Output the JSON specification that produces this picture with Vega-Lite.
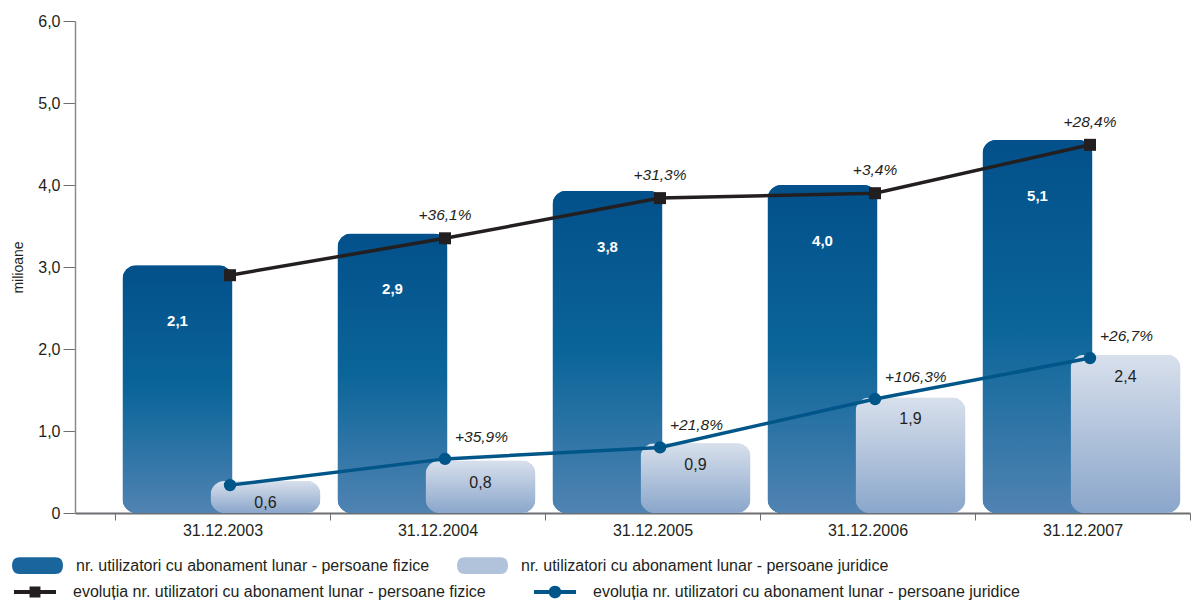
{
  "$schema": "https://vega.github.io/schema/vega-lite/v6.json",
  "width": 1115,
  "height": 492,
  "autosize": {"type": "none"},
  "padding": {"left": 75, "top": 21, "right": 3, "bottom": 88},
  "config": {
    "font": "Liberation Sans",
    "view": {"stroke": null},
    "axis": {"grid": false}
  },
  "datasets": {
    "bars": [
      {"data": "31.12.2003", "serie": "nr. utilizatori cu abonament lunar - persoane fizice", "valoare": 3.02, "eticheta": "2,1"},
      {"data": "31.12.2003", "serie": "nr. utilizatori cu abonament lunar - persoane juridice", "valoare": 0.39, "eticheta": "0,6"},
      {"data": "31.12.2004", "serie": "nr. utilizatori cu abonament lunar - persoane fizice", "valoare": 3.41, "eticheta": "2,9"},
      {"data": "31.12.2004", "serie": "nr. utilizatori cu abonament lunar - persoane juridice", "valoare": 0.64, "eticheta": "0,8"},
      {"data": "31.12.2005", "serie": "nr. utilizatori cu abonament lunar - persoane fizice", "valoare": 3.93, "eticheta": "3,8"},
      {"data": "31.12.2005", "serie": "nr. utilizatori cu abonament lunar - persoane juridice", "valoare": 0.85, "eticheta": "0,9"},
      {"data": "31.12.2006", "serie": "nr. utilizatori cu abonament lunar - persoane fizice", "valoare": 4.0, "eticheta": "4,0"},
      {"data": "31.12.2006", "serie": "nr. utilizatori cu abonament lunar - persoane juridice", "valoare": 1.41, "eticheta": "1,9"},
      {"data": "31.12.2007", "serie": "nr. utilizatori cu abonament lunar - persoane fizice", "valoare": 4.55, "eticheta": "5,1"},
      {"data": "31.12.2007", "serie": "nr. utilizatori cu abonament lunar - persoane juridice", "valoare": 1.93, "eticheta": "2,4"}
    ],
    "lines": [
      {"data": "31.12.2003", "evolutie": "evoluția nr. utilizatori cu abonament lunar - persoane fizice", "valoare": 2.9, "procent": ""},
      {"data": "31.12.2004", "evolutie": "evoluția nr. utilizatori cu abonament lunar - persoane fizice", "valoare": 3.35, "procent": "+36,1%"},
      {"data": "31.12.2005", "evolutie": "evoluția nr. utilizatori cu abonament lunar - persoane fizice", "valoare": 3.84, "procent": "+31,3%"},
      {"data": "31.12.2006", "evolutie": "evoluția nr. utilizatori cu abonament lunar - persoane fizice", "valoare": 3.9, "procent": "+3,4%"},
      {"data": "31.12.2007", "evolutie": "evoluția nr. utilizatori cu abonament lunar - persoane fizice", "valoare": 4.49, "procent": "+28,4%"},
      {"data": "31.12.2003", "evolutie": "evoluția nr. utilizatori cu abonament lunar - persoane juridice", "valoare": 0.34, "procent": ""},
      {"data": "31.12.2004", "evolutie": "evoluția nr. utilizatori cu abonament lunar - persoane juridice", "valoare": 0.66, "procent": "+35,9%"},
      {"data": "31.12.2005", "evolutie": "evoluția nr. utilizatori cu abonament lunar - persoane juridice", "valoare": 0.8, "procent": "+21,8%"},
      {"data": "31.12.2006", "evolutie": "evoluția nr. utilizatori cu abonament lunar - persoane juridice", "valoare": 1.39, "procent": "+106,3%"},
      {"data": "31.12.2007", "evolutie": "evoluția nr. utilizatori cu abonament lunar - persoane juridice", "valoare": 1.89, "procent": "+26,7%"}
    ]
  },
  "layer": [
    {
      "data": {"name": "bars"},
      "mark": {"type": "bar", "width": 110, "cornerRadius": 14},
      "encoding": {
        "x": {
          "field": "data", "type": "nominal", "sort": null,
          "scale": {"paddingInner": 0, "paddingOuter": 0.093, "align": 1},
          "axis": {
            "title": null, "labelAngle": 0, "labelFontSize": 16, "labelColor": "#231f20",
            "domainColor": "#6d6e71", "domainWidth": 2, "tickColor": "#6d6e71", "tickSize": 7,
            "tickBand": "extent", "labelPadding": 2
          }
        },
        "xOffset": {
          "field": "serie", "type": "nominal",
          "scale": {"range": [18.5, 194.5], "paddingInner": 0, "paddingOuter": 0}
        },
        "y": {
          "field": "valoare", "type": "quantitative",
          "scale": {"domain": [0, 6], "nice": false},
          "axis": {
            "title": "milioane", "titleFontSize": 14, "titleFontWeight": "normal", "titleColor": "#231f20",
            "titleX": -57, "titleY": 246, "titleAngle": -90, "titleAlign": "center", "titleBaseline": "middle",
            "values": [0, 1, 2, 3, 4, 5, 6],
            "labelExpr": "datum.value === 0 ? '0' : replace(format(datum.value, '.1f'), '.', ',')",
            "labelFontSize": 16, "labelColor": "#231f20", "labelPadding": 3,
            "tickSize": 12, "tickColor": "#6d6e71", "domainColor": "#8a8a8a", "domainWidth": 1.5
          }
        },
        "fill": {
          "field": "serie", "type": "nominal",
          "scale": {"range": ["#1a659c", "#b1c2db"]},
          "legend": {
            "title": null, "orient": "none", "legendX": -63, "legendY": 519, "direction": "horizontal",
            "symbolType": "M-0.7,-0.33L0.7,-0.33Q1,-0.33 1,0Q1,0.33 0.7,0.33L-0.7,0.33Q-1,0.33 -1,0Q-1,-0.33 -0.7,-0.33Z",
            "symbolSize": 2601, "symbolStrokeWidth": 0, "symbolOpacity": 1, "labelFontSize": 16, "labelColor": "#231f20",
            "labelOffset": 13, "columnPadding": 27, "padding": 0, "labelLimit": 600
          }
        }
      }
    },
    {
      "data": {"name": "bars"},
      "mark": {"type": "bar", "width": 110, "cornerRadius": 14},
      "encoding": {
        "x": {"field": "data", "type": "nominal", "sort": null},
        "xOffset": {"field": "serie", "type": "nominal"},
        "y": {"field": "valoare", "type": "quantitative"},
        "fill": {
          "condition": {
            "test": "indexof(datum.serie, 'fizice') >= 0",
            "value": {"gradient": "linear", "x1": 0, "y1": 0, "x2": 0, "y2": 1, "stops": [{"offset": 0, "color": "#03508a"}, {"offset": 0.5, "color": "#0a6599"}, {"offset": 1, "color": "#5083b2"}]}
          },
          "value": {"gradient": "linear", "x1": 0, "y1": 0, "x2": 0, "y2": 1, "stops": [{"offset": 0, "color": "#d8e0ec"}, {"offset": 1, "color": "#8aa6cb"}]}
        }
      }
    },
    {
      "data": {"name": "bars"},
      "transform": [{"filter": "indexof(datum.serie, 'fizice') >= 0"}],
      "mark": {"type": "text", "dy": 56, "baseline": "middle", "fill": "#ffffff", "fontWeight": "bold", "fontSize": 15},
      "encoding": {
        "x": {"field": "data", "type": "nominal", "sort": null},
        "xOffset": {"field": "serie", "type": "nominal"},
        "y": {"field": "valoare", "type": "quantitative"},
        "text": {"field": "eticheta"}
      }
    },
    {
      "data": {"name": "bars"},
      "transform": [{"filter": "indexof(datum.serie, 'juridice') >= 0"}],
      "mark": {"type": "text", "dy": 22, "baseline": "middle", "fill": "#231f20", "fontSize": 16},
      "encoding": {
        "x": {"field": "data", "type": "nominal", "sort": null},
        "xOffset": {"field": "serie", "type": "nominal"},
        "y": {"field": "valoare", "type": "quantitative"},
        "text": {"field": "eticheta"}
      }
    },
    {
      "data": {"name": "lines"},
      "mark": {"type": "line", "strokeWidth": 3.5},
      "encoding": {
        "x": {"field": "data", "type": "nominal", "sort": null, "bandPosition": 0.535},
        "y": {"field": "valoare", "type": "quantitative"},
        "stroke": {
          "field": "evolutie", "type": "nominal",
          "scale": {"range": ["#231f20", "#005589"]},
          "legend": null
        }
      }
    },
    {
      "data": {"name": "lines"},
      "transform": [{"filter": "indexof(datum.evolutie, 'fizice') >= 0"}],
      "mark": {"type": "point", "filled": true, "opacity": 1, "size": 144, "shape": "square", "color": "#231f20"},
      "encoding": {
        "x": {"field": "data", "type": "nominal", "sort": null, "bandPosition": 0.535},
        "y": {"field": "valoare", "type": "quantitative"}
      }
    },
    {
      "data": {"name": "lines"},
      "transform": [{"filter": "indexof(datum.evolutie, 'juridice') >= 0"}],
      "mark": {"type": "point", "filled": true, "opacity": 1, "size": 154, "shape": "circle", "color": "#005589"},
      "encoding": {
        "x": {"field": "data", "type": "nominal", "sort": null, "bandPosition": 0.535},
        "y": {"field": "valoare", "type": "quantitative"}
      }
    },
    {
      "data": {"name": "lines"},
      "mark": {"type": "point", "filled": true, "opacity": 0, "size": 10},
      "encoding": {
        "x": {"field": "data", "type": "nominal", "sort": null, "bandPosition": 0.535},
        "y": {"field": "valoare", "type": "quantitative"},
        "shape": {
          "field": "evolutie", "type": "nominal",
          "scale": {
            "range": [
              "M-1,-0.09H1V0.09H-1Z M-0.26,-0.26H0.26V0.26H-0.26Z",
              "M-1,-0.09H1V0.09H-1Z M-0.3,0A0.3,0.3 0 1 1 0.3,0A0.3,0.3 0 1 1 -0.3,0Z"
            ]
          },
          "legend": {
            "title": null, "orient": "none", "legendX": -61, "legendY": 550, "direction": "horizontal",
            "symbolSize": 1764, "symbolOpacity": 1, "symbolStrokeWidth": 0, "labelFontSize": 16, "labelColor": "#231f20",
            "labelOffset": 17, "columnPadding": 48, "padding": 0, "labelLimit": 600
          }
        },
        "color": {
          "field": "evolutie", "type": "nominal",
          "scale": {"range": ["#231f20", "#005589"]},
          "legend": {
            "title": null, "orient": "none", "legendX": -61, "legendY": 550, "direction": "horizontal",
            "symbolSize": 1764, "symbolOpacity": 1, "symbolStrokeWidth": 0, "labelFontSize": 16, "labelColor": "#231f20",
            "labelOffset": 17, "columnPadding": 48, "padding": 0, "labelLimit": 600
          }
        }
      }
    },
    {
      "data": {"name": "lines"},
      "transform": [{"filter": "datum.procent !== '' && indexof(datum.evolutie, 'fizice') >= 0"}],
      "mark": {"type": "text", "dy": -23, "baseline": "middle", "align": "center", "fontStyle": "italic", "fontSize": 15.5, "fill": "#231f20"},
      "encoding": {
        "x": {"field": "data", "type": "nominal", "sort": null, "bandPosition": 0.535},
        "y": {"field": "valoare", "type": "quantitative"},
        "text": {"field": "procent"}
      }
    },
    {
      "data": {"name": "lines"},
      "transform": [{"filter": "datum.procent !== '' && indexof(datum.evolutie, 'juridice') >= 0"}],
      "mark": {"type": "text", "dy": -22, "dx": 10, "baseline": "middle", "align": "left", "fontStyle": "italic", "fontSize": 15.5, "fill": "#231f20"},
      "encoding": {
        "x": {"field": "data", "type": "nominal", "sort": null, "bandPosition": 0.535},
        "y": {"field": "valoare", "type": "quantitative"},
        "text": {"field": "procent"}
      }
    }
  ]
}
